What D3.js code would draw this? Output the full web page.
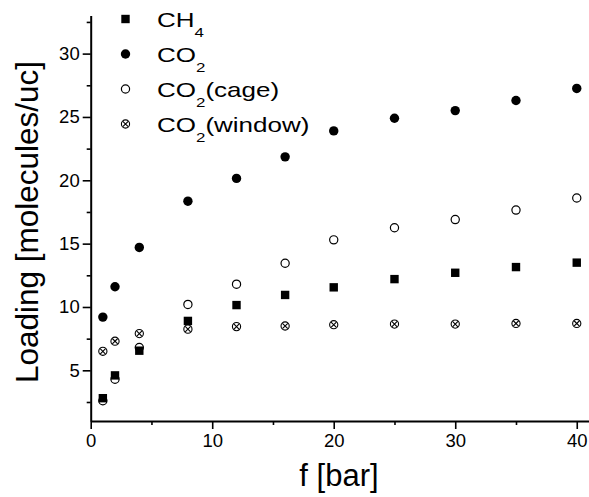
<!DOCTYPE html>
<html>
<head>
<meta charset="utf-8">
<script src="https://cdn.jsdelivr.net/npm/d3@7"></script>
<style>
  body { margin: 0; background: #fff; }
  text { font-family: Arial, 'Liberation Sans', sans-serif; }
</style>
</head>
<body>
<script>
const width = 589;
const height = 497;

// pressure values (x)
const fugacity = [1, 2, 4, 8, 12, 16, 20, 25, 30, 35, 40];

// loading per series
const ch4 = [2.8, 4.6, 6.55, 8.9, 10.15, 10.95, 11.55, 12.2, 12.7, 13.15, 13.5];
const co2 = [9.2, 11.6, 14.7, 18.35, 20.15, 21.85, 23.9, 24.9, 25.5, 26.3, 27.25];
const co2Cage = [2.6, 4.3, 6.8, 10.2, 11.8, 13.45, 15.3, 16.25, 16.9, 17.65, 18.6];
const co2Window = [6.5, 7.3, 7.9, 8.25, 8.45, 8.5, 8.6, 8.65, 8.65, 8.7, 8.7];

const xMajor = [0, 10, 20, 30, 40];
const xMinor = [5, 15, 25, 35];
const yMajor = [5, 10, 15, 20, 25, 30];
const yMinor = [2.5, 7.5, 12.5, 17.5, 22.5, 27.5, 32.5];

const svg = d3.select('body')
  .append('svg')
  .attr('width', width)
  .attr('height', height);

const x = d3.scaleLinear().domain([0, 41]).range([90.7, 588.9]);
const y = d3.scaleLinear().domain([1, 33]).range([421, 15.6]);

// x axis
const xAxis = svg.append('g').attr('transform', `translate(0, ${y(1)})`);
xAxis.call(d3.axisBottom(x).tickValues(xMajor).tickSize(8).tickPadding(5).tickSizeOuter(0));
svg.append('g')
  .attr('transform', `translate(0, ${y(1)})`)
  .call(d3.axisBottom(x).tickValues(xMinor).tickSize(4).tickFormat('').tickSizeOuter(0))
  .select('.domain').remove();

// y axis
const yAxis = svg.append('g').attr('transform', `translate(${x(0)}, 0)`);
yAxis.call(d3.axisLeft(y).tickValues(yMajor).tickSize(8).tickPadding(3).tickSizeOuter(0));
svg.append('g')
  .attr('transform', `translate(${x(0)}, 0)`)
  .call(d3.axisLeft(y).tickValues(yMinor).tickSize(4).tickFormat('').tickSizeOuter(0))
  .select('.domain').remove();

svg.selectAll('.domain').attr('stroke', '#000').attr('stroke-width', 2);
svg.selectAll('.tick line').attr('stroke', '#000').attr('stroke-width', 1.6);
svg.selectAll('.tick text')
  .attr('fill', '#000')
  .style('font-size', '18.5px')
  .style('font-family', "Arial, 'Liberation Sans', sans-serif");

// axis titles
svg.append('text')
  .attr('x', 339)
  .attr('y', 486)
  .attr('text-anchor', 'middle')
  .style('font-size', '31px')
  .text('f [bar]');

svg.append('text')
  .attr('transform', 'translate(37.5, 222) rotate(-90)')
  .attr('text-anchor', 'middle')
  .style('font-size', '31.5px')
  .text('Loading [molecules/uc]');

// marker drawing helpers
function drawSquare(g, cx, cy) {
  g.append('rect')
    .attr('x', cx - 4.2).attr('y', cy - 4.2)
    .attr('width', 8.4).attr('height', 8.4)
    .attr('fill', '#000');
}
function drawDot(g, cx, cy) {
  g.append('circle').attr('cx', cx).attr('cy', cy).attr('r', 4.7).attr('fill', '#000');
}
function drawRing(g, cx, cy) {
  g.append('circle').attr('cx', cx).attr('cy', cy).attr('r', 4.1)
    .attr('fill', 'none').attr('stroke', '#000').attr('stroke-width', 1.2);
}
function drawCross(g, cx, cy) {
  g.append('circle').attr('cx', cx).attr('cy', cy).attr('r', 4.1)
    .attr('fill', '#fff').attr('stroke', '#000').attr('stroke-width', 1.1);
  const d = 2.7;
  g.append('path')
    .attr('d', `M${cx - d},${cy - d}L${cx + d},${cy + d}M${cx - d},${cy + d}L${cx + d},${cy - d}`)
    .attr('stroke', '#000').attr('stroke-width', 1.1);
}

const series = [
  { name: 'CH', sub: '4', tail: '', values: ch4, draw: drawSquare },
  { name: 'CO', sub: '2', tail: '', values: co2, draw: drawDot },
  { name: 'CO', sub: '2', tail: '(window)', values: co2Window, draw: drawCross },
  { name: 'CO', sub: '2', tail: '(cage)', values: co2Cage, draw: drawRing },
];

const plot = svg.append('g');
series.forEach((s) => {
  const g = plot.append('g');
  s.values.forEach((v, i) => s.draw(g, x(fugacity[i]), y(v)));
});

// legend (text in the original is drawn wider than tall)
const legendOrder = [series[0], series[1], series[3], series[2]];
const legend = svg.append('g');
legendOrder.forEach((s, i) => {
  const cy = 19 + i * 35;
  s.draw(legend, 125.5, cy);
  const t = legend.append('text')
    .attr('transform', `translate(157, ${cy + 7.5}) scale(1.3, 1)`)
    .style('font-size', '20px');
  t.append('tspan').text(s.name);
  t.append('tspan').attr('dy', 10).style('font-size', '13px').text(s.sub);
  if (s.tail) t.append('tspan').attr('dy', -10).text(s.tail);
});
</script>
</body>
</html>
